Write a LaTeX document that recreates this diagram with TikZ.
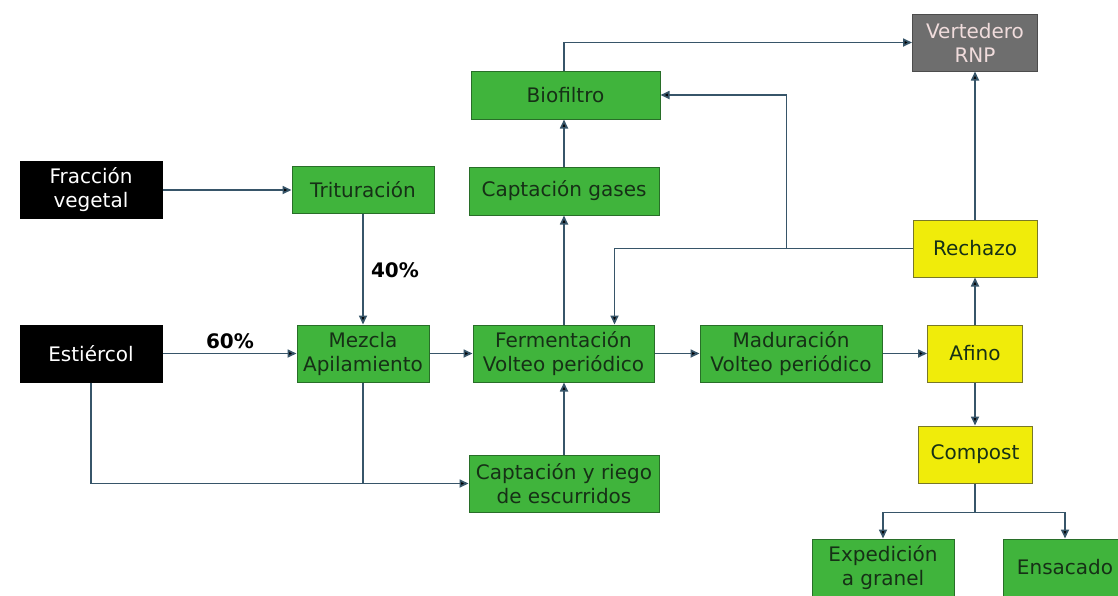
\documentclass[tikz,border=0pt]{standalone}
\usepackage{fontspec}
\setmainfont{DejaVu Sans}
\usetikzlibrary{arrows.meta,calc}
\definecolor{boxgreen}{RGB}{64,180,60}
\definecolor{greenedge}{RGB}{40,110,40}
\definecolor{greentext}{RGB}{22,48,22}
\definecolor{boxyellow}{RGB}{240,236,10}
\definecolor{yellowedge}{RGB}{120,120,40}
\definecolor{boxgray}{RGB}{110,110,110}
\definecolor{graytext}{RGB}{240,220,220}
\definecolor{linecol}{RGB}{55,85,105}
\tikzset{
  base/.style={rectangle, inner sep=0pt, align=center, font=\fontsize{20}{24}\selectfont, line width=1pt},
  gbox/.style={base, fill=boxgreen, draw=greenedge, text=greentext},
  ybox/.style={base, fill=boxyellow, draw=yellowedge, text=greentext},
  kbox/.style={base, fill=black, draw=black, text=white},
  vbox/.style={base, fill=boxgray, draw=black!70, text=graytext},
  conn/.style={draw=linecol, line width=1.7pt},
  arr/.style={conn, -{Triangle[length=9pt,width=8pt,fill=black]}},
  pct/.style={font=\fontsize{20}{24}\selectfont\bfseries, text=black, inner sep=0pt}
}
\begin{document}
\begin{tikzpicture}[x=1pt,y=-1pt]
\clip (0,0) rectangle (1118,595);
\fill[white] (0,0) rectangle (1118,595);

\node[kbox, minimum width=142pt, minimum height=57pt] (fv) at (91,190) {Fracción\\vegetal};
\node[gbox, minimum width=142pt, minimum height=47pt] (trit) at (363,190) {Trituración};
\node[kbox, minimum width=142pt, minimum height=57pt] (est) at (91,353.5) {Estiércol};
\node[gbox, minimum width=132pt, minimum height=57pt] (mez) at (363,353.5) {Mezcla\\Apilamiento};
\node[gbox, minimum width=181pt, minimum height=57pt] (ferm) at (563.5,353.5) {Fermentación\\Volteo periódico};
\node[gbox, minimum width=182pt, minimum height=57pt] (mad) at (791,353.5) {Maduración\\Volteo periódico};
\node[ybox, minimum width=95pt, minimum height=57pt] (afino) at (975,353.5) {Afino};
\node[ybox, minimum width=114pt, minimum height=57pt] (comp) at (975,454.5) {Compost};
\node[gbox, minimum width=142pt, minimum height=57pt] (exp) at (883,567.5) {Expedición\\a granel};
\node[gbox, minimum width=124pt, minimum height=57pt] (ens) at (1065,567.5) {Ensacado};
\node[ybox, minimum width=124pt, minimum height=57pt] (rech) at (975,248.5) {Rechazo};
\node[vbox, minimum width=125pt, minimum height=57pt] (vert) at (975,42.5) {Vertedero\\RNP};
\node[gbox, minimum width=189pt, minimum height=48pt] (bio) at (565.5,95) {Biofiltro};
\node[gbox, minimum width=190pt, minimum height=48pt] (capg) at (564,191) {Captación gases};
\node[gbox, minimum width=190pt, minimum height=57pt] (riego) at (564,483.5) {Captación y riego\\de escurridos};

\node[pct] (p40) at (395,270) {40\%};
\node[pct] (p60) at (230,341) {60\%};

\draw[arr] (fv) -- (trit);
\draw[arr] (trit) -- (mez);
\draw[arr] (est) -- (mez);
\draw[arr] (mez) -- (ferm);
\draw[arr] (ferm) -- (mad);
\draw[arr] (mad) -- (afino);
\draw[arr] (afino) -- (rech);
\draw[arr] (rech) -- (vert);
\draw[arr] (afino) -- (comp);
\draw[arr] (ferm.north -| capg.south) -- (capg.south);
\draw[arr] (capg.north) -- (capg.north |- bio.south);
\draw[arr] (riego.north) -- (riego.north |- ferm.south);
\draw[arr] (bio.north -| capg.north) |- (vert.west);

\coordinate (fin) at ($(ferm.north)+(51,0)$);
\coordinate (jr) at ($(rech.west)+(-126,0)$);
\draw[arr] (rech.west) -| (fin);
\draw[arr] (jr) |- (bio.east);

\draw[arr] (est.south) |- (riego.west);
\draw[conn] (mez.south) -- (mez.south |- riego.west);

\coordinate (cs) at ($(comp.south)+(0,29)$);
\draw[conn] (comp.south) -- (cs);
\draw[arr] (cs) -| (exp.north);
\draw[arr] (cs) -| (ens.north);
\end{tikzpicture}
\end{document}
